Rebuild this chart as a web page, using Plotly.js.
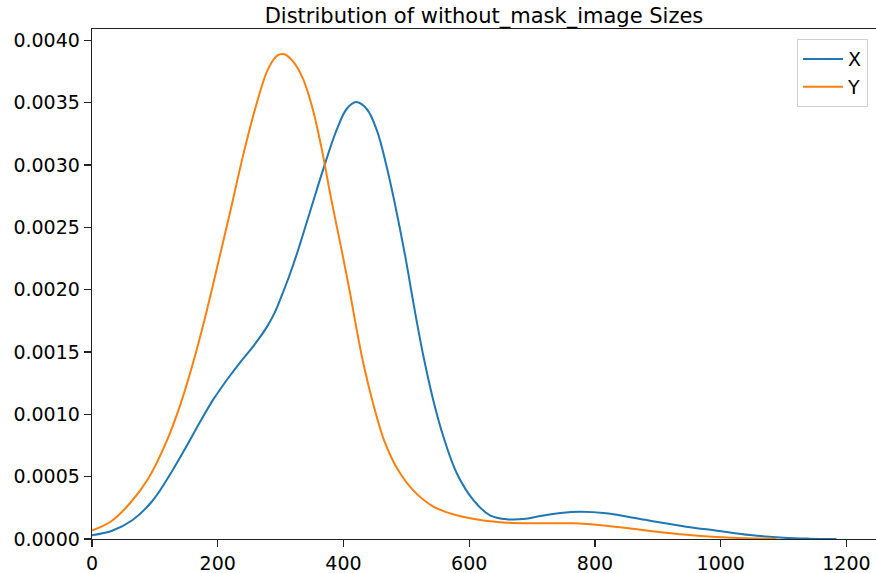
<!DOCTYPE html>
<html>
<head>
<meta charset="utf-8">
<script src="https://cdn.plot.ly/plotly-3.0.1.min.js"></script>
<style>
html,body{margin:0;padding:0;overflow:hidden;background:#fff;}
#chart{width:876px;height:573px;}
</style>
</head>
<body>
<div id="chart"></div>
<script>
// Series X (width distribution)
const xSizes = [0, 32, 64, 96, 128, 151, 172, 193, 215, 236, 257, 278, 290, 300, 313, 326, 347, 368, 389, 405, 420, 437, 453, 469, 485, 500, 511, 527, 543, 559, 580, 607, 633, 660, 690, 713, 745, 776, 818, 872, 945, 994, 1047, 1100, 1140, 1184];
const xDensity = [0.000030, 0.000066, 0.000150, 0.000305, 0.000550, 0.00075, 0.00094, 0.00112, 0.00128, 0.00142, 0.00155, 0.00170, 0.00181, 0.00193, 0.00210, 0.00229, 0.00263, 0.00297, 0.00328, 0.00345, 0.003506, 0.00345, 0.00328, 0.00298, 0.00261, 0.00222, 0.00190, 0.00147, 0.00111, 0.00082, 0.00053, 0.00031, 0.00019, 0.000158, 0.000162, 0.000185, 0.000208, 0.000218, 0.000206, 0.000160, 0.000099, 0.000067, 0.000032, 0.000010, 0.000003, 0.000001];

// Series Y (height distribution)
const ySizes = [0, 30, 60, 90, 120, 140, 160, 180, 200, 220, 240, 260, 280, 295, 306, 320, 335, 350, 365, 380, 397, 411, 421, 432, 448, 464, 485, 511, 543, 580, 620, 660, 713, 765, 818, 872, 945, 993, 1040, 1089];
const yDensity = [0.000068, 0.000140, 0.000285, 0.000490, 0.000800, 0.00107, 0.00140, 0.00178, 0.00220, 0.00263, 0.00307, 0.00346, 0.00377, 0.00388, 0.00389, 0.00383, 0.00370, 0.00347, 0.00314, 0.00274, 0.00232, 0.00196, 0.00168, 0.00140, 0.00107, 0.00080, 0.00057, 0.00039, 0.00026, 0.00019, 0.000150, 0.000131, 0.000126, 0.000126, 0.000106, 0.000074, 0.000034, 0.000016, 0.000006, 0.000002];

const seriesNames = ['X', 'Y'];
const titleText = 'Distribution of without_mask_image Sizes';
const xTicks = [0, 200, 400, 600, 800, 1000, 1200];
const yTicks = [0, 0.0005, 0.001, 0.0015, 0.002, 0.0025, 0.003, 0.0035, 0.004];

const font = 'DejaVu Sans, sans-serif';

const traces = [
  {x: xSizes, y: xDensity, name: seriesNames[0], type: 'scatter', mode: 'lines',
   line: {color: '#1f77b4', width: 2, shape: 'spline', smoothing: 1}},
  {x: ySizes, y: yDensity, name: seriesNames[1], type: 'scatter', mode: 'lines',
   line: {color: '#ff7f0e', width: 2, shape: 'spline', smoothing: 1}}
];

const layout = {
  width: 876, height: 573,
  margin: {l: 92, r: 0, t: 29, b: 34},
  paper_bgcolor: '#fff', plot_bgcolor: '#fff',
  font: {family: font, size: 19, color: '#000'},
  title: {text: titleText, font: {family: font, size: 21, color: '#000'},
          x: 0.5525, xanchor: 'center', y: 0.972, yanchor: 'middle'},
  xaxis: {range: [0, 1247], tickvals: xTicks, ticktext: xTicks.map(String),
          showgrid: false, zeroline: false, showline: true, mirror: true,
          linecolor: '#222', linewidth: 1.3, ticks: 'outside', ticklen: 7,
          tickwidth: 1.3, tickcolor: '#222', tickfont: {family: font, size: 19, color: '#000'}},
  yaxis: {range: [0, 0.004092], tickvals: yTicks, ticktext: yTicks.map(v => v.toFixed(4)),
          showgrid: false, zeroline: false, showline: true, mirror: false,
          linecolor: '#222', linewidth: 1.3, ticks: 'outside', ticklen: 7,
          tickwidth: 1.3, tickcolor: '#222', tickfont: {family: font, size: 19, color: '#000'}},
  showlegend: true,
  legend: {x: 0.9898, xanchor: 'right', y: 0.98, yanchor: 'top',
           bgcolor: '#fff', bordercolor: '#d0d0d0', borderwidth: 1,
           itemwidth: 40,
           font: {family: font, size: 19, color: '#000'}, tracegroupgap: 0}
};

Plotly.newPlot('chart', traces, layout, {displayModeBar: false, staticPlot: true});
</script>
</body>
</html>
